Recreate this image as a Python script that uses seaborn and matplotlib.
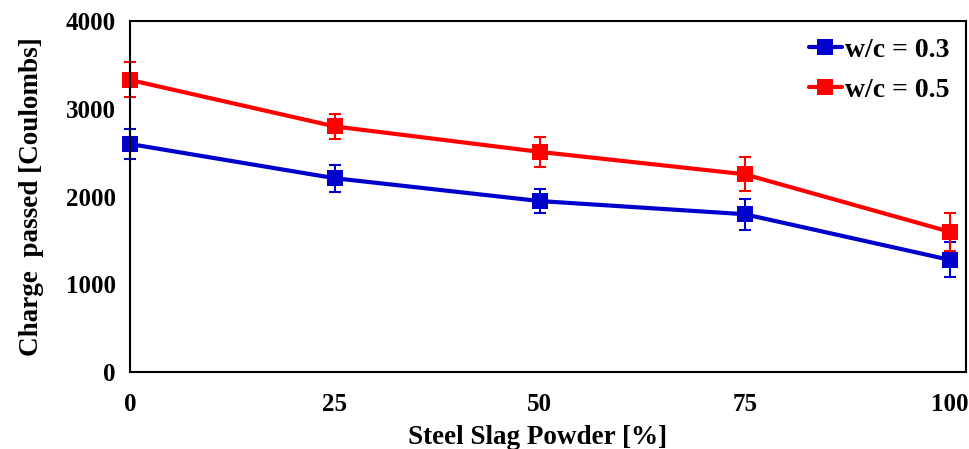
import numpy as np
import pandas as pd
import seaborn as sns
import matplotlib.pyplot as plt

# steel slag powder replacement [%]
slag = [0, 25, 50, 75, 100]
# charge passed [Coulombs]
wc03 = [2600, 2210, 1950, 1800, 1280]
wc05 = [3330, 2800, 2510, 2255, 1600]
# error bars
wc03_err = [175, 155, 140, 175, 200]
wc05_err = [200, 145, 175, 195, 215]

df = pd.DataFrame({
    "slag": slag * 2,
    "charge": wc03 + wc05,
    "series": ["w/c = 0.3"] * 5 + ["w/c = 0.5"] * 5,
})

sns.set_style("white")
plt.rcParams['font.family'] = ['Liberation Serif', 'DejaVu Serif']
plt.rcParams['font.weight'] = 'bold'
plt.rcParams['text.color'] = 'black'
plt.rcParams['axes.labelcolor'] = 'black'
plt.rcParams['xtick.color'] = 'black'
plt.rcParams['ytick.color'] = 'black'

fig = plt.figure(figsize=(9.69, 4.49), dpi=100)
ax = fig.add_axes([0.134, 0.171, 0.863, 0.782])

colors = {"w/c = 0.3": "#0000cc", "w/c = 0.5": "#ff0000"}

sns.lineplot(data=df, x="slag", y="charge", hue="series", palette=colors,
             marker="s", markersize=11, markeredgewidth=0, linewidth=3, ax=ax)
for ln in ax.lines:
    ln.set_clip_on(False)

for y, err, key in [(wc03, wc03_err, "w/c = 0.3"), (wc05, wc05_err, "w/c = 0.5")]:
    eb = ax.errorbar(slag, y, yerr=err, fmt="none", ecolor=colors[key],
                     elinewidth=1.5, capsize=4, capthick=1.5)
    for art in eb.get_children():
        art.set_clip_on(False)

ax.set_xlim(0, 102)
ax.set_ylim(0, 4000)
ax.set_xticks([0, 25, 50, 75, 100])
ax.set_yticks([0, 1000, 2000, 3000, 4000])
ax.tick_params(direction="in", length=5, width=1.5, labelsize=18)
ax.tick_params(axis="x", pad=15)
ax.tick_params(axis="y", pad=10)
for lab in ax.get_xticklabels() + ax.get_yticklabels():
    lab.set_fontweight("bold")
for sp in ax.spines.values():
    sp.set_linewidth(1.5)
    sp.set_color("black")

ax.set_xlabel("Steel Slag Powder [%]", fontsize=19.5, fontweight="bold")
ax.xaxis.set_label_coords(0.487, -0.15)
ax.set_ylabel("Charge  passed [Coulombs]", fontsize=19.5, fontweight="bold", labelpad=16)

leg = ax.legend(loc="upper right", frameon=False, fontsize=20, handlelength=1.2,
                handletextpad=0.1, borderaxespad=0.2, labelspacing=0.5)
for t in leg.get_texts():
    t.set_fontweight("bold")

fig.savefig("out.png", dpi=100)
